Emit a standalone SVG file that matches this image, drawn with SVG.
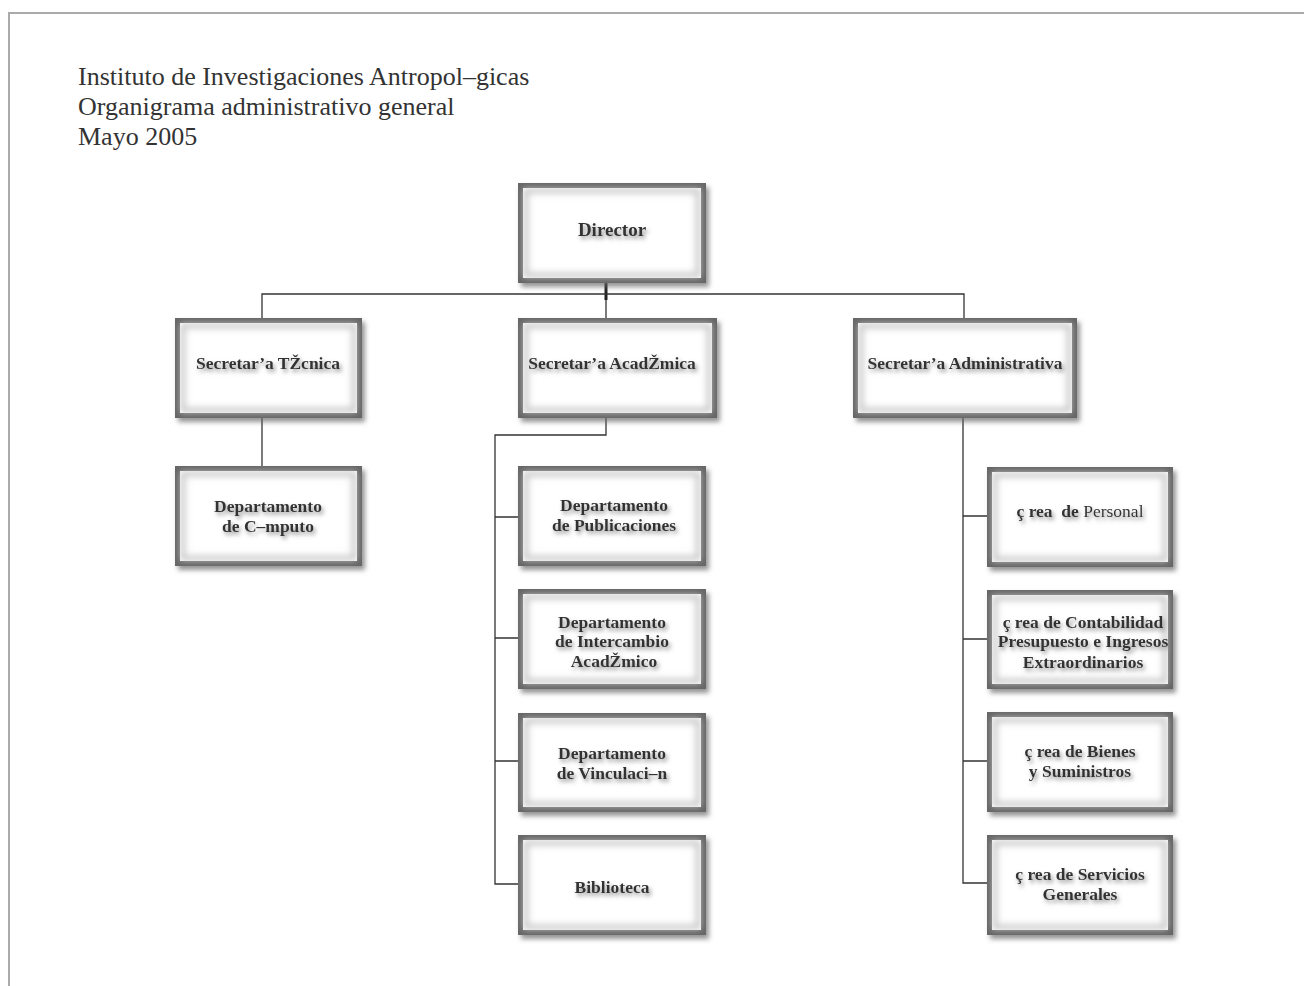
<svg xmlns="http://www.w3.org/2000/svg" width="1304" height="986" viewBox="0 0 1304 986">
<defs>
<filter id="boxsh" x="-10%" y="-10%" width="125%" height="130%">
<feDropShadow dx="3" dy="4" stdDeviation="2.5" flood-color="#666" flood-opacity="0.7"/>
</filter>
<filter id="inner" x="-10%" y="-10%" width="120%" height="120%">
<feGaussianBlur stdDeviation="3"/>
</filter>
<filter id="txtsh" x="-10%" y="-30%" width="125%" height="170%">
<feDropShadow dx="2" dy="3" stdDeviation="2" flood-color="#888" flood-opacity="0.9"/>
</filter>
</defs>
<style>
.frame{stroke:#aaa;stroke-width:2;fill:none}
.box{fill:#fff;stroke:#666;stroke-width:5;filter:url(#boxsh)}
.glow{fill:none;stroke:#c8c8c8;stroke-width:5;filter:url(#inner)}
.lbl{font-family:"Liberation Serif","Times New Roman",serif;font-size:17.5px;font-weight:bold;fill:#333;text-anchor:middle;filter:url(#txtsh)}
.reg{font-weight:normal}
.title{font-family:"Liberation Serif","Times New Roman",serif;font-size:26px;fill:#333}
.con{stroke:#333;stroke-width:1.3;fill:none}
</style>
<rect width="1304" height="986" fill="#fff"/>
<path class="frame" d="M9 986 V13 H1304"/>
<g id="title">
<text class="title" x="78" y="85">Instituto de Investigaciones Antropol–gicas</text>
<text class="title" x="78" y="115">Organigrama administrativo general</text>
<text class="title" x="78" y="145">Mayo 2005</text>
</g>
<g id="connectors">
<path class="con" d="M606 300 V318"/>
<path d="M606 283 V300" stroke="#222" stroke-width="3"/>
<path class="con" d="M262 318 V294 H964 V318"/>
<path class="con" d="M262 418 V466"/>
<path class="con" d="M606 418 V435 H495 V884 H518"/>
<path class="con" d="M495 517 H518 M495 638 H518 M495 761 H518"/>
<path class="con" d="M963 418 V883 H987 M963 516 H987 M963 639 H987 M963 761 H987"/>
</g>
<g id="director">
<rect class="box" x="520.5" y="185.5" width="183" height="95"/>
<rect class="glow" x="526" y="191" width="172" height="84"/>
<text class="lbl" x="612" y="236" style="font-size:19px">Director</text>
</g>
<g id="sec-tecnica">
<rect class="box" x="177.5" y="320.5" width="182" height="95"/>
<rect class="glow" x="183" y="326" width="171" height="84"/>
<text class="lbl" x="268" y="369">Secretar’a TŽcnica</text>
</g>
<g id="dep-computo">
<rect class="box" x="177.5" y="468.5" width="182" height="95"/>
<rect class="glow" x="183" y="474" width="171" height="84"/>
<text class="lbl" x="268" y="512">Departamento</text>
<text class="lbl" x="268" y="532">de C–mputo</text>
</g>
<g id="sec-academica">
<rect class="box" x="520.5" y="320.5" width="194" height="95"/>
<rect class="glow" x="526" y="326" width="183" height="84"/>
<text class="lbl" x="612" y="369">Secretar’a AcadŽmica</text>
</g>
<g id="dep-publicaciones">
<rect class="box" x="520.5" y="468.5" width="183" height="95"/>
<rect class="glow" x="526" y="474" width="172" height="84"/>
<text class="lbl" x="614" y="511">Departamento</text>
<text class="lbl" x="614" y="531">de Publicaciones</text>
</g>
<g id="dep-intercambio">
<rect class="box" x="520.5" y="591.5" width="183" height="95"/>
<rect class="glow" x="526" y="597" width="172" height="84"/>
<text class="lbl" x="612" y="628">Departamento</text>
<text class="lbl" x="612" y="647">de Intercambio</text>
<text class="lbl" x="614" y="667">AcadŽmico</text>
</g>
<g id="dep-vinculacion">
<rect class="box" x="520.5" y="715.5" width="183" height="94"/>
<rect class="glow" x="526" y="721" width="172" height="83"/>
<text class="lbl" x="612" y="759">Departamento</text>
<text class="lbl" x="612" y="779">de Vinculaci–n</text>
</g>
<g id="biblioteca">
<rect class="box" x="520.5" y="837.5" width="183" height="95"/>
<rect class="glow" x="526" y="843" width="172" height="84"/>
<text class="lbl" x="612" y="893">Biblioteca</text>
</g>
<g id="sec-administrativa">
<rect class="box" x="855.5" y="320.5" width="219" height="95"/>
<rect class="glow" x="861" y="326" width="208" height="84"/>
<text class="lbl" x="965" y="369">Secretar’a Administrativa</text>
</g>
<g id="area-personal">
<rect class="box" x="989.5" y="469.5" width="181" height="95"/>
<rect class="glow" x="995" y="475" width="170" height="84"/>
<text class="lbl" x="1080" y="517" xml:space="preserve">ç rea  de <tspan class="reg">Personal</tspan></text>
</g>
<g id="area-contabilidad">
<rect class="box" x="989.5" y="592.5" width="181" height="94"/>
<rect class="glow" x="995" y="598" width="170" height="83"/>
<text class="lbl" x="1083" y="628">ç rea de Contabilidad</text>
<text class="lbl" x="1083" y="647">Presupuesto e Ingresos</text>
<text class="lbl" x="1083" y="668">Extraordinarios</text>
</g>
<g id="area-bienes">
<rect class="box" x="989.5" y="714.5" width="181" height="95"/>
<rect class="glow" x="995" y="720" width="170" height="84"/>
<text class="lbl" x="1080" y="757">ç rea de Bienes</text>
<text class="lbl" x="1080" y="777">y Suministros</text>
</g>
<g id="area-servicios">
<rect class="box" x="989.5" y="837.5" width="181" height="95"/>
<rect class="glow" x="995" y="843" width="170" height="84"/>
<text class="lbl" x="1080" y="880">ç rea de Servicios</text>
<text class="lbl" x="1080" y="900">Generales</text>
</g>
</svg>
